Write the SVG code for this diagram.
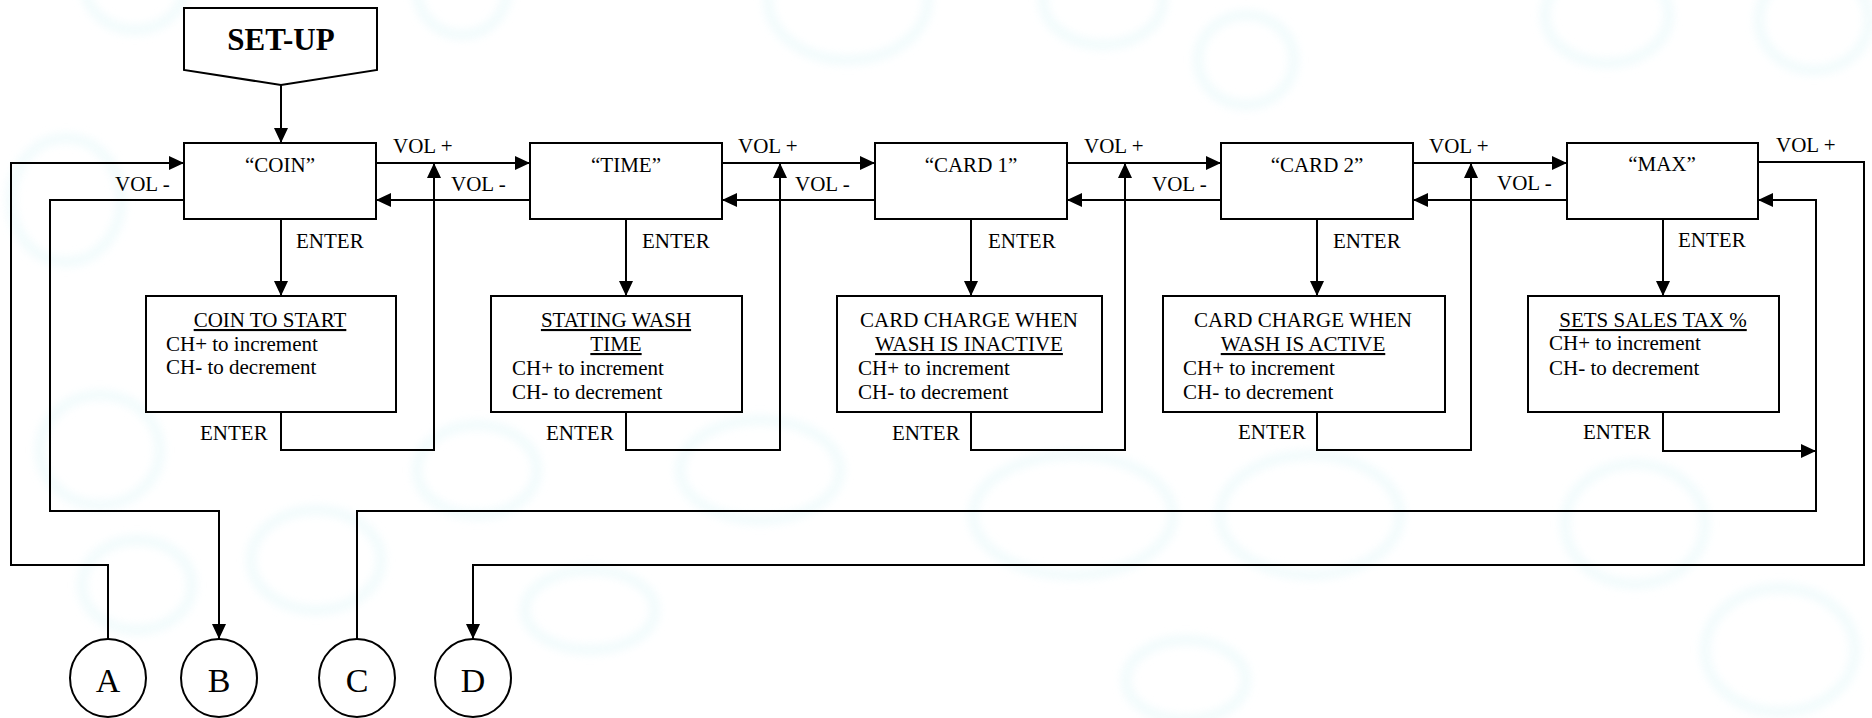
<svg xmlns="http://www.w3.org/2000/svg" width="1872" height="718" viewBox="0 0 1872 718">
<style>
.box{fill:#fff;stroke:#000;stroke-width:2}
.circ{fill:#fff;stroke:#000;stroke-width:2}
.ln{fill:none;stroke:#000;stroke-width:2}
.wm{fill:none;stroke:#e6f8fa;stroke-width:10}
text{font-family:"Liberation Serif","Times New Roman",serif;font-size:21px;fill:#000}
.c{text-anchor:middle}
.u{text-decoration:underline}
.big{font-size:31px;font-weight:bold}
.lt{font-size:34px}
</style>
<defs>
<marker id="ah" markerUnits="userSpaceOnUse" markerWidth="16" markerHeight="14" refX="15" refY="7" orient="auto">
<path d="M0,0 L15,7 L0,14 z" fill="#000"/>
</marker>
<filter id="soft" x="-30%" y="-30%" width="160%" height="160%"><feGaussianBlur stdDeviation="4"/></filter>
</defs>
<rect width="1872" height="718" fill="#fff"/>

<g id="watermark" filter="url(#soft)" opacity="0.55">
<ellipse class="wm" cx="135" cy="-15" rx="50" ry="45"/>
<ellipse class="wm" cx="462" cy="-10" rx="45" ry="45"/>
<ellipse class="wm" cx="848" cy="0" rx="80" ry="60"/>
<ellipse class="wm" cx="66" cy="200" rx="55" ry="62"/>
<ellipse class="wm" cx="100" cy="450" rx="60" ry="55"/>
<ellipse class="wm" cx="137" cy="585" rx="55" ry="45"/>
<ellipse class="wm" cx="477" cy="470" rx="60" ry="45"/>
<ellipse class="wm" cx="760" cy="470" rx="80" ry="50"/>
<ellipse class="wm" cx="316" cy="560" rx="65" ry="50"/>
<ellipse class="wm" cx="590" cy="610" rx="65" ry="40"/>
<ellipse class="wm" cx="1103" cy="0" rx="60" ry="45"/>
<ellipse class="wm" cx="1607" cy="15" rx="62" ry="48"/>
<ellipse class="wm" cx="1814" cy="20" rx="55" ry="50"/>
<ellipse class="wm" cx="1246" cy="60" rx="48" ry="45"/>
<ellipse class="wm" cx="1073" cy="515" rx="100" ry="60"/>
<ellipse class="wm" cx="1310" cy="515" rx="90" ry="60"/>
<ellipse class="wm" cx="1635" cy="524" rx="70" ry="60"/>
<ellipse class="wm" cx="1780" cy="650" rx="75" ry="62"/>
<ellipse class="wm" cx="1186" cy="680" rx="60" ry="40"/>
</g>

<g id="connectors">
<path class="ln" d="M281,85 V143" marker-end="url(#ah)"/>
<path class="ln" d="M376,163 H530" marker-end="url(#ah)"/>
<path class="ln" d="M722,163 H875" marker-end="url(#ah)"/>
<path class="ln" d="M1067,163 H1221" marker-end="url(#ah)"/>
<path class="ln" d="M1413,163 H1567" marker-end="url(#ah)"/>
<path class="ln" d="M530,200 H376" marker-end="url(#ah)"/>
<path class="ln" d="M875,200 H722" marker-end="url(#ah)"/>
<path class="ln" d="M1221,200 H1067" marker-end="url(#ah)"/>
<path class="ln" d="M1567,200 H1413" marker-end="url(#ah)"/>
<path class="ln" d="M281,219 V296" marker-end="url(#ah)"/>
<path class="ln" d="M626,219 V296" marker-end="url(#ah)"/>
<path class="ln" d="M971,219 V296" marker-end="url(#ah)"/>
<path class="ln" d="M1317,219 V296" marker-end="url(#ah)"/>
<path class="ln" d="M1663,219 V296" marker-end="url(#ah)"/>
<path class="ln" d="M281,412 V450 H434 V163" marker-end="url(#ah)"/>
<path class="ln" d="M626,412 V450 H780 V163" marker-end="url(#ah)"/>
<path class="ln" d="M971,412 V450 H1125 V163" marker-end="url(#ah)"/>
<path class="ln" d="M1317,412 V450 H1471 V163" marker-end="url(#ah)"/>
<path class="ln" d="M1663,412 V451 H1816" marker-end="url(#ah)"/>
<path class="ln" d="M108,640 V565 H11 V163 H184" marker-end="url(#ah)"/>
<path class="ln" d="M184,200 H50 V511 H219 V639" marker-end="url(#ah)"/>
<path class="ln" d="M357,640 V511 H1816 V200 H1758" marker-end="url(#ah)"/>
<path class="ln" d="M1758,162 H1864 V565 H473 V639" marker-end="url(#ah)"/>
<text x="393" y="153">VOL +</text>
<text x="738" y="153">VOL +</text>
<text x="1084" y="153">VOL +</text>
<text x="1429" y="153">VOL +</text>
<text x="1776" y="152">VOL +</text>
<text x="115" y="191">VOL -</text>
<text x="451" y="191">VOL -</text>
<text x="795" y="191">VOL -</text>
<text x="1152" y="191">VOL -</text>
<text x="1497" y="190">VOL -</text>
<text x="296" y="248">ENTER</text>
<text x="642" y="248">ENTER</text>
<text x="988" y="248">ENTER</text>
<text x="1333" y="248">ENTER</text>
<text x="1678" y="247">ENTER</text>
<text x="200" y="440">ENTER</text>
<text x="546" y="440">ENTER</text>
<text x="892" y="440">ENTER</text>
<text x="1238" y="439">ENTER</text>
<text x="1583" y="439">ENTER</text>
</g>

<g id="setup">
<path class="box" d="M184,8 H377 V70 L281,85 L184,70 Z"/>
<text class="c big" x="281" y="50">SET-UP</text>
</g>

<g id="coin">
<rect class="box" x="184" y="143" width="192" height="76"/>
<text class="c" x="280" y="172">“COIN”</text>
</g>
<g id="time">
<rect class="box" x="530" y="143" width="192" height="76"/>
<text class="c" x="626" y="172">“TIME”</text>
</g>
<g id="card1">
<rect class="box" x="875" y="143" width="192" height="76"/>
<text class="c" x="971" y="172">“CARD 1”</text>
</g>
<g id="card2">
<rect class="box" x="1221" y="143" width="192" height="76"/>
<text class="c" x="1317" y="172">“CARD 2”</text>
</g>
<g id="max">
<rect class="box" x="1567" y="143" width="191" height="76"/>
<text class="c" x="1662" y="171">“MAX”</text>
</g>

<g id="coin-set">
<rect class="box" x="146" y="296" width="250" height="116"/>
<text class="c u" x="270" y="327">COIN TO START</text>
<text x="166" y="351">CH+ to increment</text>
<text x="166" y="374">CH- to decrement</text>
</g>
<g id="time-set">
<rect class="box" x="491" y="296" width="251" height="116"/>
<text class="c u" x="616" y="327">STATING WASH</text>
<text class="c u" x="616" y="351">TIME</text>
<text x="512" y="375">CH+ to increment</text>
<text x="512" y="399">CH- to decrement</text>
</g>
<g id="card1-set">
<rect class="box" x="837" y="296" width="265" height="116"/>
<text class="c" x="969" y="327">CARD CHARGE WHEN</text>
<text class="c u" x="969" y="351">WASH IS INACTIVE</text>
<text x="858" y="375">CH+ to increment</text>
<text x="858" y="399">CH- to decrement</text>
</g>
<g id="card2-set">
<rect class="box" x="1163" y="296" width="282" height="116"/>
<text class="c" x="1303" y="327">CARD CHARGE WHEN</text>
<text class="c u" x="1303" y="351">WASH IS ACTIVE</text>
<text x="1183" y="375">CH+ to increment</text>
<text x="1183" y="399">CH- to decrement</text>
</g>
<g id="max-set">
<rect class="box" x="1528" y="296" width="251" height="116"/>
<text class="c u" x="1653" y="327">SETS SALES TAX %</text>
<text x="1549" y="350">CH+ to increment</text>
<text x="1549" y="375">CH- to decrement</text>
</g>

<g id="A"><ellipse class="circ" cx="108" cy="678" rx="38" ry="39"/><text class="c lt" x="108" y="692">A</text></g>
<g id="B"><ellipse class="circ" cx="219" cy="678" rx="38" ry="39"/><text class="c lt" x="219" y="692">B</text></g>
<g id="C"><ellipse class="circ" cx="357" cy="678" rx="38" ry="39"/><text class="c lt" x="357" y="692">C</text></g>
<g id="D"><ellipse class="circ" cx="473" cy="678" rx="38" ry="39"/><text class="c lt" x="473" y="692">D</text></g>
</svg>
